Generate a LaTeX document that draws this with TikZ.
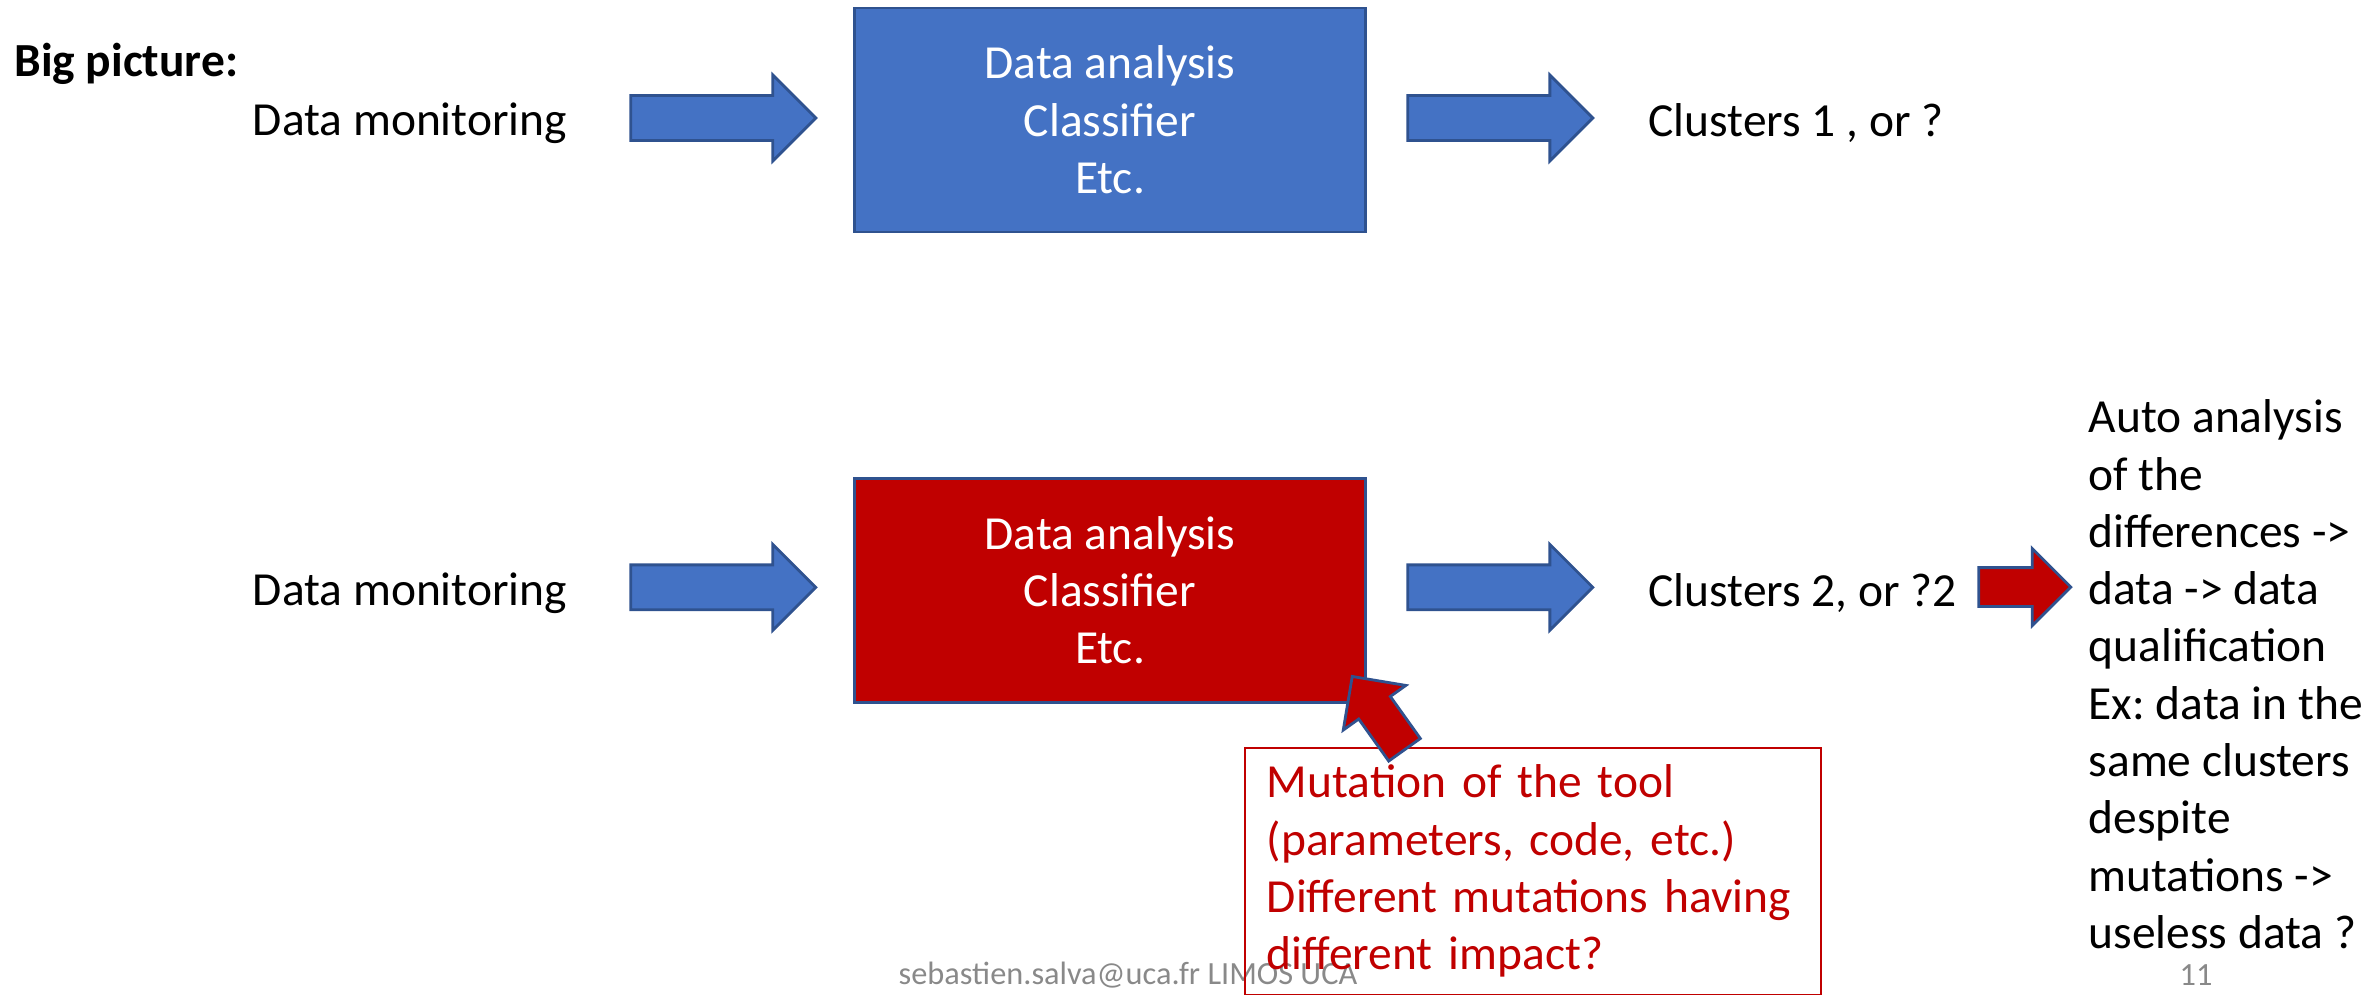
\documentclass[tikz,border=0pt]{standalone}
\usepackage{fontspec}
\setmainfont{Carlito}
\usetikzlibrary{shapes.arrows,positioning}

\definecolor{bluefill}{HTML}{4472C4}
\definecolor{blueline}{HTML}{2F528F}
\definecolor{redfill}{HTML}{C00000}
\definecolor{footgray}{HTML}{898989}

\frenchspacing

\begin{document}
\begin{tikzpicture}[x=0.01cm, y=-0.01cm,
    font=\fontsize{13.5}{16.3}\selectfont,
    procbox/.style={rectangle, draw=blueline, line width=0.8pt, text=white,
      align=center, minimum width=5.11cm, minimum height=2.24cm},
    bluearrow/.style={single arrow, draw=blueline, fill=bluefill, line width=0.8pt,
      inner xsep=0pt, inner ysep=0.21cm, minimum height=1.85cm,
      single arrow head extend=0.205cm},
    redarrow/.style={single arrow, draw=blueline, fill=redfill, line width=0.8pt,
      inner xsep=0pt, inner ysep=0.18cm, single arrow head extend=0.19cm},
    notebox/.style={rectangle, draw=redfill, line width=0.5pt, text=redfill,
      align=left, text width=5.32cm, inner xsep=0.22cm, inner ysep=0.17cm},
    footer/.style={text=footgray, font=\fontsize{9.2}{11}\selectfont}]

  \useasboundingbox (0,0) rectangle (2379,996);
  \clip (0,0) rectangle (2379,996);

  %% page footer, lies under the note box
  \node (Foot) [footer] at (1128,975) {sebastien.salva@uca.fr LIMOS UCA};
  \node (PageNo) [footer] at (2196,975) {11};

  \node (Title) [anchor=west, font=\fontsize{13.5}{16.3}\selectfont\bfseries] at (2,64) {Big picture:};

  %% first run
  \node (Mon1) at (410,123) {Data monitoring};
  \node (ArrA1) [bluearrow] at (712,118) {};
  \node (Ana1) [procbox, fill=bluefill] at (1110,120) {Data analysis\\Classifier\\Etc.};
  \node (ArrB1) [bluearrow] at (1489,118) {};
  \node (Clu1) [anchor=west] at (1636,123) {Clusters 1 , or ?};

  %% second run, with the mutated tool
  \node (Mon2) [node distance=4.70cm, below of=Mon1] {Data monitoring};
  \node (ArrA2) [bluearrow, node distance=4.69cm, below of=ArrA1] {};
  \node (Ana2) [procbox, fill=redfill, node distance=4.70cm, below of=Ana1] {Data analysis\\Classifier\\Etc.};
  \node (ArrB2) [bluearrow, node distance=4.69cm, below of=ArrB1] {};
  \node (Clu2) [anchor=west] at (1636,593) {Clusters 2, or ?2};
  \node (ArrC2) [redarrow, minimum height=0.92cm] at (2015,587) {};
  \node (Auto) [anchor=north west, align=left, inner sep=0pt] at (2088,399)
    {Auto analysis\\of the\\differences ->\\data -> data\\qualification\\Ex: data in the\\same clusters\\despite\\mutations ->\\useless data ?};

  \node (Mut) [notebox, anchor=north west] at (1244,747)
    {Mutation of the tool\\(parameters, code, etc.)\\Different mutations having\\different impact?};
  \node (ArrMut) [redarrow, minimum height=0.90cm, rotate=125.5] at (1384,721) {};

\end{tikzpicture}
\end{document}
